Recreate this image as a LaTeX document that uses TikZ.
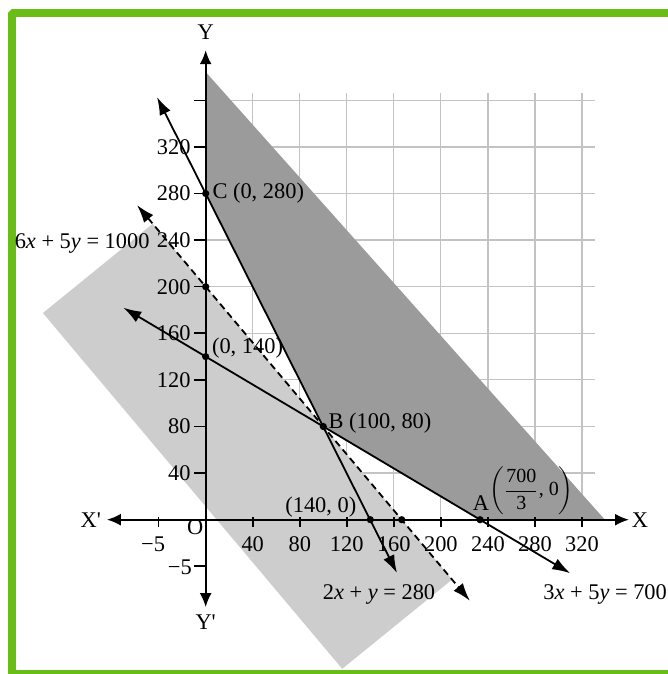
\documentclass[tikz,border=0pt]{standalone}
\usepackage{fontspec}
\setmainfont{Liberation Serif}
\usepackage{amsmath}
\usetikzlibrary{arrows.meta}
\definecolor{framegreen}{RGB}{104,189,22}
\definecolor{darkregion}{RGB}{155,155,155}
\definecolor{lightregion}{RGB}{205,205,205}
\definecolor{gridgray}{RGB}{195,195,195}
\begin{document}
\begin{tikzpicture}[x=0.588pt,y=0.5825pt,line join=bevel,
  font=\fontsize{11.2}{13}\selectfont,
  dot/.style={circle,fill=black,inner sep=0pt,minimum size=3.6pt},
  ylab/.style={anchor=east,inner sep=0pt},
  xlab/.style={inner sep=0pt},
  axisline/.style={line width=1pt,{Latex[length=7pt,width=6pt]}-{Latex[length=7pt,width=6pt]}},
  graphline/.style={line width=0.9pt,{Latex[length=9pt,width=6pt]}-{Latex[length=9pt,width=6pt]}},
  tickmark/.style={line width=0.8pt}]
%%
\useasboundingbox (-174.9,-132.45) rectangle (392.3,446.1);
\draw [framegreen,line width=4pt] (-164.7,-132.45) rectangle (430,434.9);
\draw [gridgray,line width=0.6pt] (0,0) grid [xstep=40,ystep=40] (331,366);
\fill [lightregion] (-138.4,177.4) -- (-45,254) -- (209.5,-51.4) -- (116.1,-128) -- cycle;
\fill [darkregion] (0,384.3) -- (339.5,0) -- (233.33,0) -- (100,80) -- (0,280) -- cycle;
%
\coordinate (xl) at (-84,0);
\coordinate (xr) at (360,0);
\coordinate (yb) at (0,-75);
\coordinate (yt) at (0,403);
\draw [axisline] (xl) -- (xr);
\draw [axisline] (yb) -- (yt);
\draw [tickmark] (-40,2) -- (-40,-6) (40,2) -- (40,-6) (80,2) -- (80,-6) (120,2) -- (120,-6)
  (160,2) -- (160,-6) (200,2) -- (200,-6) (240,2) -- (240,-6) (280,2) -- (280,-6) (320,2) -- (320,-6);
\draw [tickmark] (-10,-40) -- (0,-40) (-10,40) -- (0,40) (-10,80) -- (0,80) (-10,120) -- (0,120)
  (-10,160) -- (0,160) (-10,200) -- (0,200) (-10,240) -- (0,240) (-10,280) -- (0,280)
  (-10,320) -- (0,320) (-10,360) -- (0,360);
%
\node (X) at (369.3,0) {X};
\node (Xp) at (-97.7,0) {X\textquotesingle};
\node (Y) at (0,418.5) {Y};
\node (Yp) at (0,-87.8) {Y\textquotesingle};
\node (O) at (-9,-6.3) {O};
\node (xm5) at (-44.7,-21.5) [xlab] {−5};
\node (x40) at (40,-21) [xlab] {40};
\node (x80) at (80,-21) [xlab] {80};
\node (x120) at (120,-21) [xlab] {120};
\node (x160) at (160,-21) [xlab] {160};
\node (x200) at (200,-21) [xlab] {200};
\node (x240) at (240,-21) [xlab] {240};
\node (x280) at (280,-21) [xlab] {280};
\node (x320) at (320,-21) [xlab] {320};
\node (ym5) at (-11.5,-41) [ylab] {−5};
\node (y40) at (-12.5,40) [ylab] {40};
\node (y80) at (-12.5,80) [ylab] {80};
\node (y120) at (-12.5,120) [ylab] {120};
\node (y160) at (-12.5,160) [ylab] {160};
\node (y200) at (-12.5,200) [ylab] {200};
\node (y240) at (-12.5,240) [ylab] {240};
\node (y280) at (-12.5,280) [ylab] {280};
\node (y320) at (-12.5,320) [ylab] {320};
%
\coordinate (l1s) at (-41.4,362.8);
\coordinate (l1e) at (162.7,-45.8);
\coordinate (l2s) at (-70,182);
\coordinate (l2e) at (310,-46);
\coordinate (l3s) at (-58.4,270.1);
\coordinate (l3e) at (224.7,-69.6);
\draw [graphline] (l1s) -- (l1e);
\draw [graphline] (l2s) -- (l2e);
\draw [graphline,dash pattern=on 3.4pt off 2.2pt] (l3s) -- (l3e);
%
\node (C) at (0,280) [dot] {};
\node (P200) at (0,200) [dot] {};
\node (P140) at (0,140) [dot] {};
\node (B) at (100,80) [dot] {};
\node (Q140) at (140,0) [dot] {};
\node (Q167) at (166.67,0) [dot] {};
\node (A) at (233.33,0) [dot] {};
%
\node (Clab) at (5.5,280) [anchor=west,inner sep=0pt] {C (0, 280)};
\node (P140lab) at (5.1,147) [anchor=west,inner sep=0pt] {(0, 140)};
\node (Blab) at (104.3,82.6) [anchor=west,inner sep=0pt] {B (100, 80)};
\node (Q140lab) at (97.9,10.5) [inner sep=0pt] {(140, 0)};
\node (Alab) at (234.1,14.5) [inner sep=0pt] {A};
\node (Aval) at (277,24.7) [inner sep=0pt,font=\fontsize{10}{12}\selectfont] {$\biggl(\dfrac{\text{700}}{\text{3}}\text{, 0}\biggr)$};
\node (l3lab) at (-47.4,237.3) [anchor=east,inner sep=0pt] {6\textit{x} + 5\textit{y} = 1000};
\node (l1lab) at (147.4,-63.8) [inner sep=0pt] {2\textit{x} + \textit{y} = 280};
\node (l2lab) at (286.8,-63.8) [anchor=west,inner sep=0pt] {3\textit{x} + 5\textit{y} = 700};
%
\end{tikzpicture}
\end{document}
